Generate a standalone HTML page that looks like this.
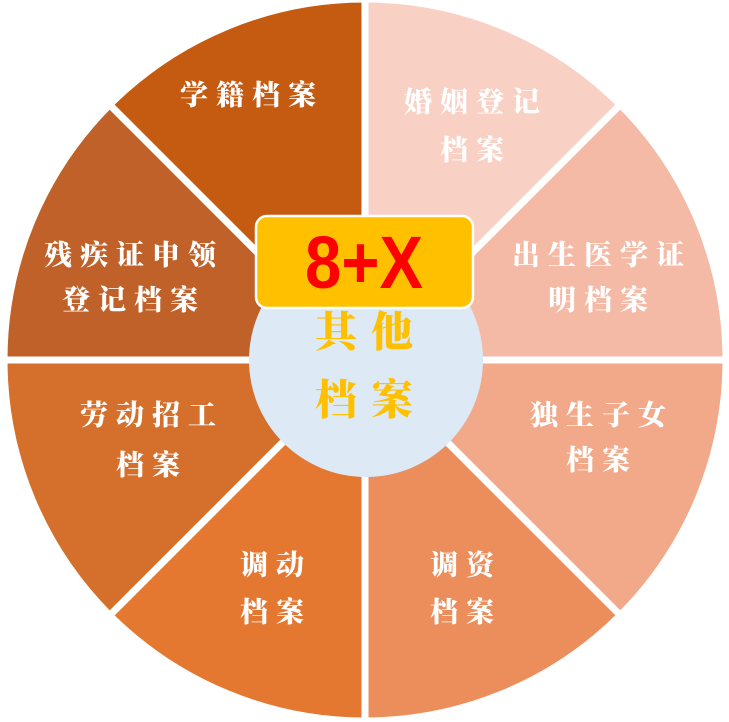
<!DOCTYPE html>
<html><head><meta charset="utf-8"><style>
html,body{margin:0;padding:0;background:#fff;}
svg{display:block}
.t{font-family:"Liberation Sans","Noto Serif CJK SC","Noto Sans CJK SC",sans-serif;font-weight:900;font-size:28px;fill:#fff;letter-spacing:8px;text-anchor:middle;dominant-baseline:central}
.c{font-family:"Liberation Sans","Noto Serif CJK SC","Noto Sans CJK SC",sans-serif;font-weight:900;font-size:42px;fill:#FFC000;letter-spacing:14px;text-anchor:middle;dominant-baseline:central}
</style></head><body>
<svg width="729" height="722" viewBox="0 0 729 722">
<g stroke="#fff" stroke-width="7" stroke-linejoin="miter">
<path d="M365,360 L365,-1 A361,361 0 0 1 620.3,104.7 Z" fill="#F8D0C4"/>
<path d="M365,360 L620.3,104.7 A361,361 0 0 1 726,360 Z" fill="#F4BAA6"/>
<path d="M365,360 L726,360 A361,361 0 0 1 620.3,615.3 Z" fill="#F1A98A"/>
<path d="M365,360 L620.3,615.3 A361,361 0 0 1 365,721 Z" fill="#EC8E5C"/>
<path d="M365,360 L365,721 A361,361 0 0 1 109.7,615.3 Z" fill="#E47831"/>
<path d="M365,360 L109.7,615.3 A361,361 0 0 1 4,360 Z" fill="#D5702C"/>
<path d="M365,360 L4,360 A361,361 0 0 1 109.7,104.7 Z" fill="#BF6128"/>
<path d="M365,360 L109.7,104.7 A361,361 0 0 1 365,-1 Z" fill="#C55A11"/>
</g>
<circle cx="366" cy="360" r="117" fill="#DDE9F5"/>
<rect x="256" y="216" width="217" height="92" rx="11" fill="#FFC000" stroke="#fff" stroke-width="2.5"/>
<text x="305" y="288" font-family="Liberation Sans,sans-serif" font-size="74" font-weight="bold" fill="#FF0000" textLength="118" lengthAdjust="spacingAndGlyphs">8+X</text>
<text class="c" x="371" y="332">其他</text>
<text class="c" x="371" y="400">档案</text>
<text class="t" x="252" y="95">学籍档案</text>
<text class="t" x="476" y="102">婚姻登记</text>
<text class="t" x="476" y="150">档案</text>
<text class="t" x="134" y="255">残疾证申领</text>
<text class="t" x="134" y="300">登记档案</text>
<text class="t" x="602" y="255">出生医学证</text>
<text class="t" x="602" y="300">明档案</text>
<text class="t" x="152" y="415">劳动招工</text>
<text class="t" x="152" y="465">档案</text>
<text class="t" x="602" y="415">独生子女</text>
<text class="t" x="602" y="460">档案</text>
<text class="t" x="276" y="565">调动</text>
<text class="t" x="276" y="612">档案</text>
<text class="t" x="466" y="565">调资</text>
<text class="t" x="466" y="612">档案</text>
</svg>
</body></html>
